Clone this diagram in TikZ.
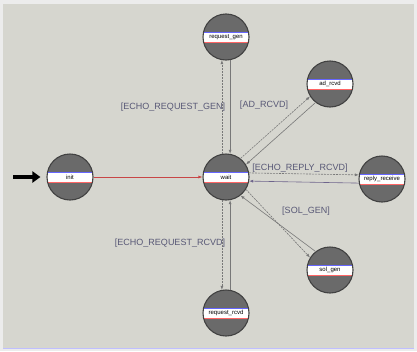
\documentclass[tikz,border=0pt]{standalone}
\usepackage{fontspec}
\setmainfont{Liberation Sans}
\usetikzlibrary{arrows.meta}

\definecolor{bgpanel}{RGB}{214,214,207}
\definecolor{bgedge}{RGB}{236,236,236}
\definecolor{statefill}{RGB}{106,106,106}
\definecolor{stateline}{RGB}{66,66,66}
\definecolor{trline}{RGB}{120,120,120}
\definecolor{trback}{RGB}{110,100,140}
\definecolor{condtext}{RGB}{88,88,118}
\definecolor{initline}{RGB}{200,70,70}

\begin{document}
\begin{tikzpicture}[x=1pt, y=-1pt, >={Latex[length=4pt,width=3pt]},
    state/.style={circle, minimum size=46pt, inner sep=0pt, fill=statefill, draw=stateline, line width=1.1pt,
        font=\fontsize{6}{6}\selectfont,
        path picture={
            \fill[white] ([yshift=-4.5pt]path picture bounding box.west) rectangle ([yshift=4.5pt]path picture bounding box.east);
            \draw[blue!60, line width=0.35pt] ([yshift=4.8pt]path picture bounding box.west) -- ([yshift=4.8pt]path picture bounding box.east);
            \draw[red!60, line width=0.35pt] ([yshift=-4.8pt]path picture bounding box.west) -- ([yshift=-4.8pt]path picture bounding box.east);
        }},
    cond/.style={text=condtext, font=\fontsize{9}{9}\selectfont, inner sep=0pt},
    fwd/.style={->, draw=trline, line width=0.6pt, dash pattern=on 2pt off 1pt},
    back/.style={->, draw=trline, line width=0.6pt}]

    % panel
    \fill[bgedge] (0,0) rectangle (417,351);
    \fill[bgpanel] (3,4) rectangle (414,348);
    \draw[blue!25, line width=0.8pt] (3,348) -- (414,348);

    % states
    \node[state] (wait) at (226,177) {wait};
    \node[state] (init) at (70,177) {init};
    \node[state] (request_gen) at (226,37) {request\_gen};
    \node[state] (ad_rcvd) at (330,84) {ad\_rcvd};
    \node[state] (reply_receive) at (382,179) {reply\_receive};
    \node[state] (sol_gen) at (330,270) {sol\_gen};
    \node[state] (request_rcvd) at (226,313) {request\_rcvd};

    % start marker
    \coordinate (start) at (13,177);
    \draw[-{Triangle[length=8pt,width=11pt]}, line width=4.5pt, shorten >=6pt] (start) -- (init.west);

    % transitions
    \draw[->, draw=initline, line width=0.7pt] (init) -- (wait);

    \draw[fwd] (wait.100) -- (request_gen.260);
    \draw[back] (request_gen.280) -- (wait.80);

    \draw[fwd] (wait.52) -- (ad_rcvd.212);
    \draw[back] (ad_rcvd.232) -- (wait.32);

    \draw[fwd] (wait.10) -- (reply_receive.170);
    \draw[back, draw=trback] (reply_receive.190) -- (wait.-10);

    \draw[fwd] (wait.-32) -- (sol_gen.148);
    \draw[back] (sol_gen.128) -- (wait.-52);

    \draw[fwd] (wait.260) -- (request_rcvd.100);
    \draw[back] (request_rcvd.80) -- (wait.280);

    % conditions
    \node[cond] (c_gen) at (173,107) {[ECHO\_REQUEST\_GEN]};
    \node[cond] (c_ad) at (264,105) {[AD\_RCVD]};
    \node[cond] (c_reply) at (300,168) {[ECHO\_REPLY\_RCVD]};
    \node[cond] (c_sol) at (306,211) {[SOL\_GEN]};
    \node[cond] (c_rcvd) at (170,243) {[ECHO\_REQUEST\_RCVD]};
\end{tikzpicture}
\end{document}
